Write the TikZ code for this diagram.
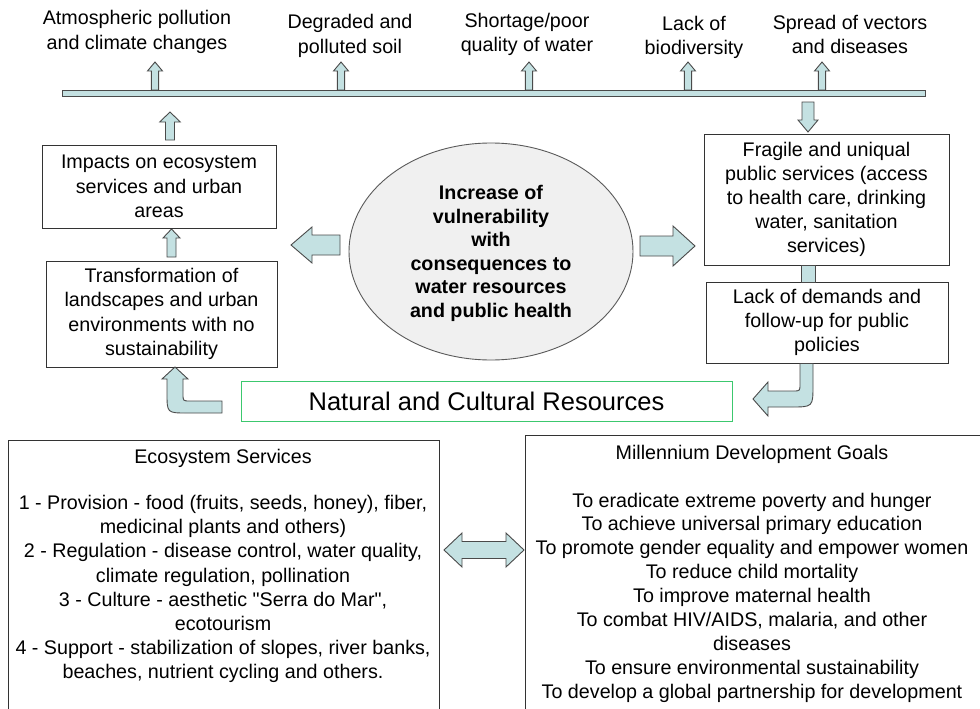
\documentclass[tikz,border=0pt]{standalone}
\usepackage{fontspec}
\setmainfont{Liberation Sans}[Ligatures=TeXOff]
\usetikzlibrary{shapes.geometric}
\definecolor{afill}{HTML}{C4E1E2}
\definecolor{adraw}{HTML}{4A4A4A}
\definecolor{bdraw}{HTML}{333333}
\definecolor{gbox}{HTML}{3CC86E}
\definecolor{efill}{HTML}{F0F0F0}
\definecolor{edraw}{HTML}{5A5A5A}
\tikzset{
  blk/.style={draw=adraw, fill=afill, line width=0.9pt, line join=miter},
  txt/.style={font=\fontsize{19.7}{24.2}\selectfont, align=center, inner sep=0pt},
  boxnode/.style={txt, draw=bdraw, fill=white, line width=1pt},
}
% vertical block arrow: x, tip y, end y, head half width, shaft half width, signed head length
\newcommand\vblk[6]{\draw[blk] (#1,#2) -- ({#1+#4},{#2+#6}) -- ({#1+#5},{#2+#6}) -- ({#1+#5},#3) -- ({#1-#5},#3) -- ({#1-#5},{#2+#6}) -- ({#1-#4},{#2+#6}) -- cycle;}
% horizontal block arrow: y, tip x, end x, head half width, shaft half width, signed head length
\newcommand\hblk[6]{\draw[blk] (#2,#1) -- ({#2+#6},{#1+#4}) -- ({#2+#6},{#1+#5}) -- (#3,{#1+#5}) -- (#3,{#1-#5}) -- ({#2+#6},{#1-#5}) -- ({#2+#6},{#1-#4}) -- cycle;}
\begin{document}
\begin{tikzpicture}[x=1pt,y=-1pt]
\useasboundingbox (0,0) rectangle (980,709);
\fill[white] (0,0) rectangle (980,709);

% top labels
\node[txt] (t1) at (137,32) {Atmospheric pollution\\and climate changes};
\node[txt] (t2) at (350,36) {Degraded and\\polluted soil};
\node[txt] (t3) at (527,34.5) {Shortage/poor\\quality of water};
\node[txt] (t4) at (694,37.5) {Lack of\\biodiversity};
\node[txt] (t5) at (850,34.5) {Spread of vectors\\and diseases};

% small up arrows to labels
\vblk{155}{62}{90}{7.5}{3.6}{9}
\vblk{341}{62}{90}{7.5}{3.6}{9}
\vblk{529}{62}{90}{7.5}{3.6}{9}
\vblk{688}{62}{90}{7.5}{3.6}{9}
\vblk{822}{62}{90}{7.5}{3.6}{9}

% bar
\node[blk, inner sep=0pt, minimum width=863pt, minimum height=6pt] (bar) at (493.5,93) {};

% arrows below bar
\vblk{170}{112}{140}{10.3}{4.5}{10}
\vblk{808}{132}{102}{10}{6}{-12}
\vblk{171.5}{229}{257}{8.5}{4.5}{9}

% left boxes
\node[boxnode, minimum width=234pt, minimum height=83pt] (imp) at (159,186.5)
  {Impacts on ecosystem\\services and urban\\areas};
\node[boxnode, minimum width=231pt, minimum height=106pt] (trans) at (161.5,314)
  {Transformation of\\landscapes and urban\\environments with no\\sustainability};

% right boxes
\node[boxnode, minimum width=245pt, minimum height=131pt] (frag) at (826.5,199.5)
  {Fragile and uniqual\\public services (access\\to health care, drinking\\water, sanitation\\services)};
\node[boxnode, minimum width=242pt, minimum height=81pt] (lack) at (827,322.5)
  {Lack of demands and\\follow-up for public\\policies};
\draw[blk] (801,265) rectangle (815,282);

% ellipse
\node[ellipse, draw=edraw, fill=efill, line width=0.9pt, minimum width=284pt, minimum height=217pt, inner sep=0pt] (ell) at (491,251.5) {};
\node[txt, font=\bfseries\fontsize{19.7}{23.6}\selectfont] (ellt) at (491,253.5)
  {Increase of\\vulnerability\\with\\consequences to\\water resources\\and public health};

% big arrows around ellipse
\hblk{245}{291}{340}{18}{10}{21}
\hblk{246}{695}{640}{20}{10}{-22}

% natural and cultural resources
\node[txt, draw=gbox, line width=1pt, font=\fontsize{25.5}{30}\selectfont, minimum width=491pt, minimum height=40pt] (nat) at (486.5,401) {Natural and Cultural Resources};

% curved arrows
\draw[blk] (175,367) -- (188,379) -- (183,379) -- (183,394) .. controls (183,401) .. (190,401)
  -- (222,401) -- (222,413) -- (187,413) .. controls (167,413) .. (167,393) -- (167,379) -- (162,379) -- cycle;
\draw[blk] (800,363.5) -- (800,384) .. controls (800,391) .. (793,391) -- (768,391) -- (768,382)
  -- (753,399) -- (768,416) -- (768,407) -- (791,407) .. controls (813,407) .. (813,385) -- (813,363.5) -- cycle;

% bottom boxes
\draw[bdraw, line width=1pt] (8,440) rectangle (439,760);
\node[txt] (esh) at (223,458) {Ecosystem Services};
\node[txt] (esb) at (223,589) {1 - Provision - food (fruits, seeds, honey), fiber,\\medicinal plants and others)\\2 - Regulation - disease control, water quality,\\climate regulation, pollination\\3 - Culture - aesthetic "Serra do Mar",\\ecotourism\\4 - Support - stabilization of slopes, river banks,\\beaches, nutrient cycling and others.};

\draw[bdraw, line width=1pt] (525,435) rectangle (1000,760);
\node[txt] (mdh) at (752,454) {Millennium Development Goals};
\node[txt, font=\fontsize{19.7}{23.9}\selectfont] (mdb) at (752,597.5) {To eradicate extreme poverty and hunger\\To achieve universal primary education\\To promote gender equality and empower women\\To reduce child mortality\\To improve maternal health\\To combat HIV/AIDS, malaria, and other\\diseases\\To ensure environmental sustainability\\To develop a global partnership for development};

% double arrow
\draw[blk] (444,550) -- (462,533) -- (462,541.5) -- (506,541.5) -- (506,533) -- (524,550)
  -- (506,567) -- (506,558.5) -- (462,558.5) -- (462,567) -- cycle;
\end{tikzpicture}
\end{document}
